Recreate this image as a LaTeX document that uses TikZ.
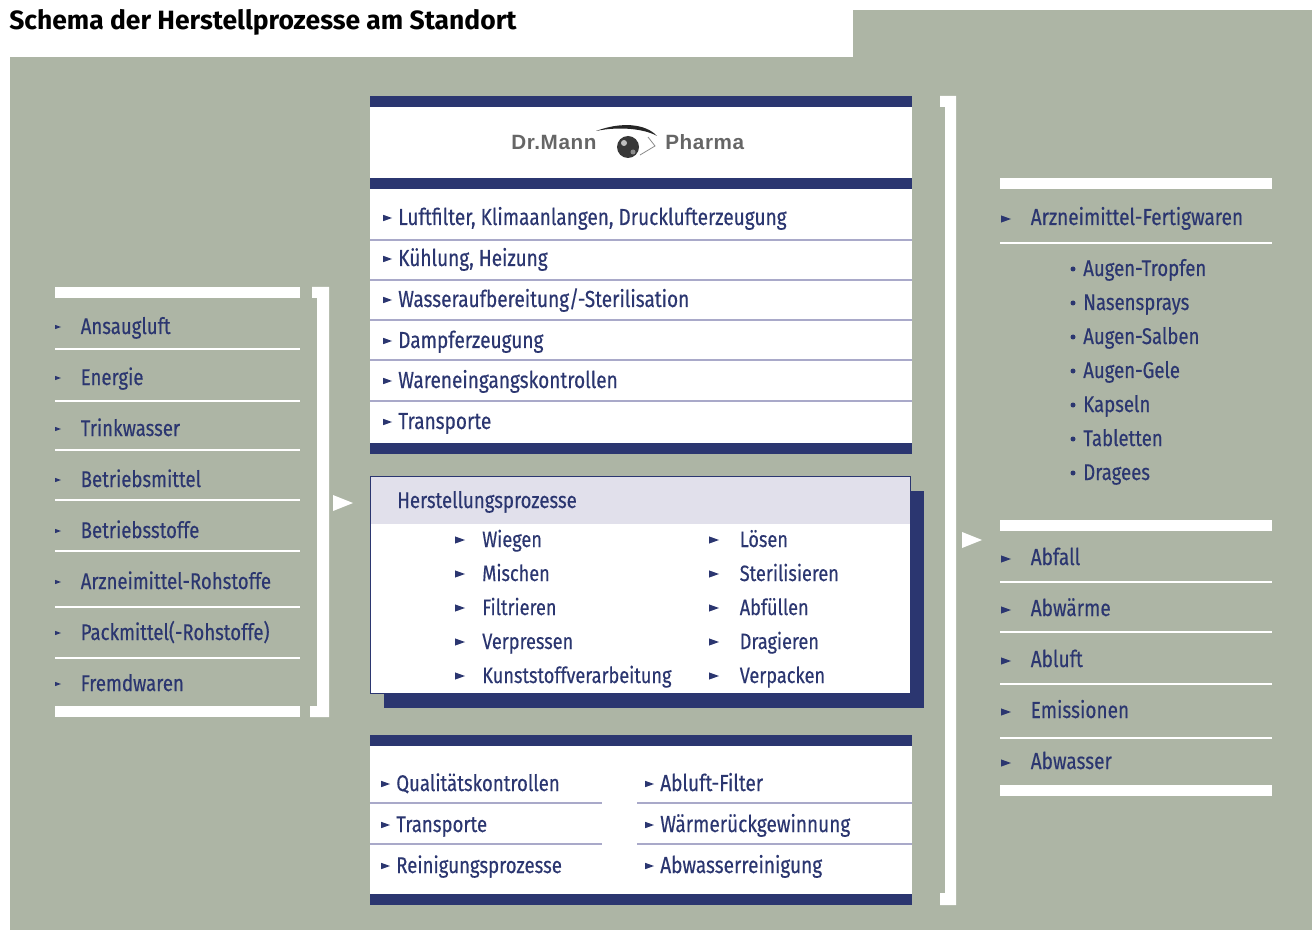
\documentclass[tikz,border=0pt]{standalone}
\usepackage{fontspec}
\setmainfont[FakeStretch=0.82,FakeBold=0.35]{Fira Sans}
\newfontfamily\titlefont{Fira Sans}
\newfontfamily\logofont[LetterSpace=3]{Liberation Sans}
\definecolor{bggray}{HTML}{ADB5A5}
\definecolor{navy}{HTML}{2B3670}
\definecolor{lav}{HTML}{E1E0EB}
\definecolor{sepl}{HTML}{A9A9C9}
\tikzset{
 x=0.75pt,y=-0.75pt,
 lab/.style={anchor=base west,inner sep=0pt,text=navy,font=\fontsize{17pt}{18pt}\selectfont},
 labA/.style={lab,font=\fontsize{17.4pt}{18pt}\selectfont},
 labB/.style={lab,font=\fontsize{16.6pt}{18pt}\selectfont},
 bar/.style={fill=navy},
 wbar/.style={fill=white},
 sepline/.style={draw=sepl,line width=0.9pt},
 wline/.style={draw=white,line width=2pt},
 wtri/.style={fill=white},
 logotext/.style={anchor=base west,inner sep=0pt,text=black!60,font=\logofont\bfseries\fontsize{15.5pt}{16pt}\selectfont},
}
\newcommand{\tri}[4][navy]{\fill[#1] (#2,#4-#3*0.36) -- (#2+#3,#4) -- (#2,#4+#3*0.36) -- cycle;}
\begin{document}
\begin{tikzpicture}
\useasboundingbox (0,0) rectangle (1316,930);
% background
\fill[bggray] (10,57) rectangle (1312,930);
\fill[bggray] (853,10) rectangle (1312,57);
\node[anchor=base west,inner sep=0pt,font=\titlefont\bfseries\fontsize{19.85pt}{22pt}\selectfont] (title) at (9,30) {Schema der Herstellprozesse am Standort};
% left list
\fill[wbar] (55,287) rectangle (300,298);
\fill[wbar] (55,706) rectangle (300,717);
\foreach \y in {349,401,450,500,551,607,658} \draw[wline] (55,\y) -- (300,\y);
\foreach \t [count=\i] in {Ansaugluft,Energie,Trinkwasser,Betriebsmittel,Betriebsstoffe,Arzneimittel-Rohstoffe,Packmittel(-Rohstoffe),Fremdwaren}{
  \pgfmathsetmacro\yy{326+51*(\i-1)}
  \tri{55}{6}{\yy+1}
  \node[lab] (left\i) at (80.5,\yy+8) {\t};
}
% left bracket
\fill[white] (312,287) -- (329,287) -- (329,717) -- (310,717) -- (310,706) -- (317,706) -- (317,298) -- (312,298) -- cycle;
\fill[wtri] (333,495) -- (353,503) -- (333,511) -- cycle;
% centre top
\fill[white] (370,96) rectangle (912,454);
\fill[bar] (370,96) rectangle (912,107);
\fill[bar] (370,178) rectangle (912,189);
\fill[bar] (370,443) rectangle (912,454);
\foreach \y in {240,280,320,360,401} \draw[sepline] (370,\y) -- (912,\y);
\foreach \t/\yy [count=\i] in {{Luftfilter, Klimaanlangen, Drucklufterzeugung}/217,{Kühlung, Heizung}/258,{Wasseraufbereitung/-Sterilisation}/299,{Dampferzeugung}/340,{Wareneingangskontrollen}/380,{Transporte}/421}{
  \tri{383}{9}{\yy+1}
  \node[labA] (top\i) at (398,\yy+8) {\t};
}
% logo
\node[logotext] (logoa) at (511,150) {Dr.Mann};
\node[logotext] (logob) at (665,150) {Pharma};
\fill[black!78] (628,147) circle[radius=11];
\fill[black!25] (624,143) circle[radius=3];
\fill[black!45] (633,152) circle[radius=2.5];
\fill[black!85] (596,131) .. controls (620,122) and (645,123) .. (657,136) .. controls (645,129) and (620,126) .. (596,131) -- cycle;
\draw[black!45,line width=0.6pt] (640,155) -- (655,146) -- (648,137);
% Herstellung box
\fill[navy] (384,491) rectangle (924,708);
\fill[white] (370,476) rectangle (911,694);
\fill[lav] (370,476) rectangle (911,524);
\draw[navy,line width=1pt] (370.5,476.5) rectangle (910.5,693.5);
\node[lab] (hp) at (397,508) {Herstellungsprozesse};
\foreach \t/\yy [count=\i] in {Wiegen/539,Mischen/573,Filtrieren/607,Verpressen/641,Kunststoffverarbeitung/675}{
  \tri{455}{10}{\yy+1}
  \node[labB] (ha\i) at (482,\yy+8) {\t};
}
\foreach \t/\yy [count=\i] in {Lösen/539,Sterilisieren/573,Abfüllen/607,Dragieren/641,Verpacken/675}{
  \tri{709}{10}{\yy+1}
  \node[labB] (hb\i) at (739.5,\yy+8) {\t};
}
% centre bottom
\fill[white] (370,735) rectangle (912,905);
\fill[bar] (370,735) rectangle (912,746);
\fill[bar] (370,894) rectangle (912,905);
\foreach \y in {803,844}{
  \draw[draw=sepl,line width=0.9pt] (370,\y) -- (602,\y);
  \draw[draw=sepl,line width=0.9pt] (637,\y) -- (912,\y);
}
\foreach \t/\yy [count=\i] in {Qualitätskontrollen/783,Transporte/824,Reinigungsprozesse/865}{
  \tri{381}{9}{\yy+1}
  \node[lab] (ba\i) at (396,\yy+8) {\t};
}
\foreach \t/\yy [count=\i] in {Abluft-Filter/783,Wärmerückgewinnung/824,Abwasserreinigung/865}{
  \tri{645}{9}{\yy+1}
  \node[labA] (bb\i) at (660,\yy+8) {\t};
}
% right bracket
\fill[white] (940,96) -- (956,96) -- (956,905) -- (940,905) -- (940,893) -- (945,893) -- (945,107) -- (940,107) -- cycle;
\fill[wtri] (962,532) -- (982,540) -- (962,548) -- cycle;
% right list
\fill[wbar] (1000,178) rectangle (1272,189);
\draw[wline] (1000,243) -- (1272,243);
\tri{1001}{10}{219}
\node[labA] (r0) at (1030.5,225) {Arzneimittel-Fertigwaren};
\foreach \t [count=\i] in {Augen-Tropfen,Nasensprays,Augen-Salben,Augen-Gele,Kapseln,Tabletten,Dragees}{
  \pgfmathsetmacro\yy{268+34*(\i-1)}
  \fill[navy] (1073,\yy+1) circle[radius=2.5];
  \node[lab] (s\i) at (1083,\yy+8) {\t};
}
\fill[wbar] (1000,520) rectangle (1272,531);
\fill[wbar] (1000,785) rectangle (1272,796);
\foreach \y in {582,632,684,738} \draw[wline] (1000,\y) -- (1272,\y);
\foreach \t [count=\i] in {Abfall,Abwärme,Abluft,Emissionen,Abwasser}{
  \pgfmathsetmacro\yy{557+51*(\i-1)}
  \tri{1001}{10}{\yy+2}
  \node[labA] (o\i) at (1030.5,\yy+8) {\t};
}
\end{tikzpicture}
\end{document}
